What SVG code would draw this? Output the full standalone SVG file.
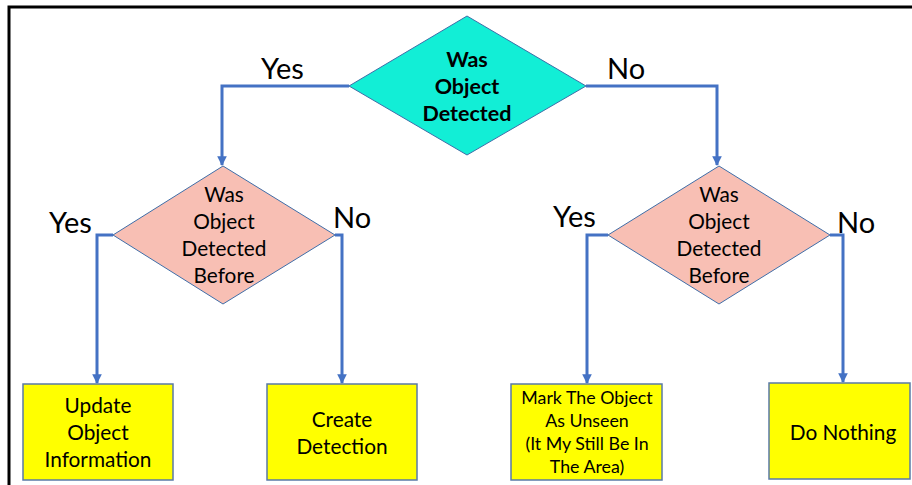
<svg xmlns="http://www.w3.org/2000/svg" width="912" height="485" viewBox="0 0 912 485">
<defs>
<style>
.frame{fill:none;stroke:#000;stroke-width:3}
.con{fill:none;stroke:#4472C4;stroke-width:3}
.dia1{fill:#12EED6;stroke:#3F6EA8;stroke-width:1}
.dia2{fill:#F8BFB4;stroke:#3F6EA8;stroke-width:1}
.box{fill:#FFFF00;stroke:#5A7AA6;stroke-width:1.5}
text{font-family:Lato,"Open Sans","Liberation Sans",sans-serif;fill:#000;text-anchor:middle}
.b{font-weight:bold;font-size:21.5px}
.t{font-size:20.8px}
.s{font-size:17.8px}
.lab{font-size:29px;text-anchor:start}
</style>
<marker id="ah" viewBox="0 0 10 10" refX="9" refY="5" markerWidth="3.2" markerHeight="3.2" orient="auto" markerUnits="strokeWidth">
<path d="M0,0 L10,5 L0,10 z" fill="#4472C4"/>
</marker>
</defs>
<polyline class="frame" points="9,485 9,7 912,7"/>
<g id="connectors">
<polyline class="con" points="349,86 222,86 222,165" marker-end="url(#ah)"/>
<polyline class="con" points="586,86 717,86 717,165" marker-end="url(#ah)"/>
<polyline class="con" points="113,235 97,235 97,383" marker-end="url(#ah)"/>
<polyline class="con" points="335,235 342,235 342,383" marker-end="url(#ah)"/>
<polyline class="con" points="608,235 587,235 587,383" marker-end="url(#ah)"/>
<polyline class="con" points="830,235 843,235 843,382" marker-end="url(#ah)"/>
<text class="lab" x="261" y="79">Yes</text>
<text class="lab" x="607" y="79">No</text>
<text class="lab" x="49" y="233">Yes</text>
<text class="lab" x="333" y="228">No</text>
<text class="lab" x="553" y="227">Yes</text>
<text class="lab" x="837" y="233">No</text>
</g>
<g id="decision-top">
<polygon class="dia1" points="467,16 586,86 467,155 349,86"/>
<text class="b" x="467" y="67">Was</text>
<text class="b" x="467" y="94">Object</text>
<text class="b" x="467" y="121">Detected</text>
</g>
<g id="decision-left">
<polygon class="dia2" points="223,166 335,235 223,304 113,235"/>
<text class="t" x="224" y="202">Was</text>
<text class="t" x="224" y="229">Object</text>
<text class="t" x="224" y="256">Detected</text>
<text class="t" x="224" y="283">Before</text>
</g>
<g id="decision-right">
<polygon class="dia2" points="719,166 830,235 719,304 608,235"/>
<text class="t" x="719" y="202">Was</text>
<text class="t" x="719" y="229">Object</text>
<text class="t" x="719" y="256">Detected</text>
<text class="t" x="719" y="283">Before</text>
</g>
<g id="box-update">
<rect class="box" x="23" y="384" width="150" height="96"/>
<text class="t" x="98" y="413">Update</text>
<text class="t" x="98" y="440">Object</text>
<text class="t" x="98" y="467">Information</text>
</g>
<g id="box-create">
<rect class="box" x="267" y="384" width="150" height="96"/>
<text class="t" x="342" y="427">Create</text>
<text class="t" x="342" y="454">Detection</text>
</g>
<g id="box-mark">
<rect class="box" x="511" y="384" width="151" height="96"/>
<text class="s" x="587" y="404">Mark The Object</text>
<text class="s" x="587" y="427">As Unseen</text>
<text class="s" x="587" y="450">(It My Still Be In</text>
<text class="s" x="587" y="473">The Area)</text>
</g>
<g id="box-nothing">
<rect class="box" x="769" y="383" width="141" height="96"/>
<text class="t" x="843" y="440">Do Nothing</text>
</g>
</svg>
